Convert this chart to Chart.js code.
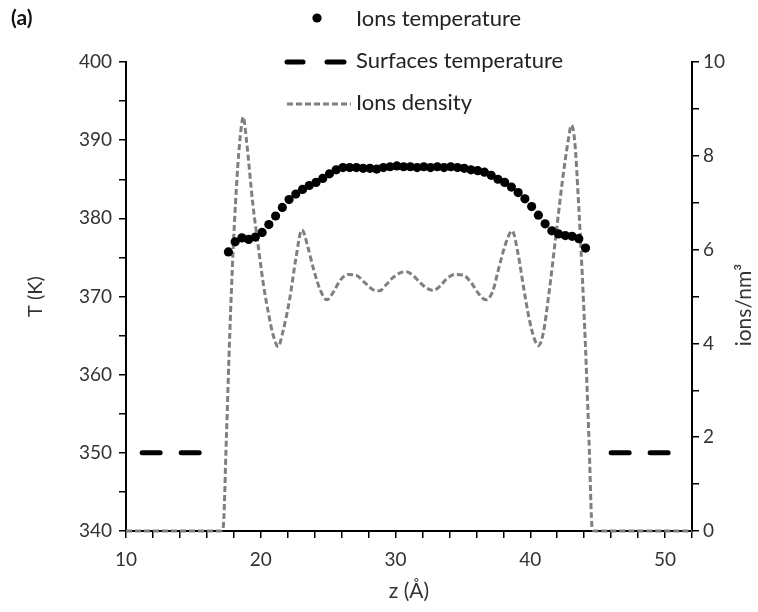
<!DOCTYPE html>
<html>
<head>
<meta charset="utf-8">
<script src="https://cdn.jsdelivr.net/npm/chart.js"></script>
<style>
  html, body { margin: 0; padding: 0; background: #fff; }
  #wrap { width: 758px; height: 612px; position: relative; }
</style>
</head>
<body>
<div id="wrap"><canvas id="chart"></canvas></div>
<script>
// ions temperature (left axis, K)
const ionsZ = [17.6, 18.1, 18.6, 19.1, 19.6, 20.1, 20.6, 21.1, 21.6, 22.1, 22.6, 23.1, 23.6, 24.1, 24.6, 25.1, 25.6, 26.1, 26.6, 27.1,
    27.6, 28.1, 28.6, 29.1, 29.6, 30.1, 30.6, 31.1, 31.6, 32.1, 32.6, 33.1, 33.6, 34.1, 34.6, 35.1, 35.6, 36.1, 36.6, 37.1,
    37.6, 38.1, 38.6, 39.1, 39.6, 40.1, 40.6, 41.1, 41.6, 42.1, 42.6, 43.1, 43.6, 44.1];
const ionsT = [375.7, 377.0, 377.5, 377.3, 377.6, 378.2, 379.2, 380.3, 381.4, 382.4, 383.1, 383.7, 384.2, 384.6, 385.1, 385.7, 386.2, 386.5, 386.5, 386.5,
    386.4, 386.4, 386.3, 386.5, 386.6, 386.7, 386.6, 386.6, 386.5, 386.6, 386.5, 386.6, 386.5, 386.6, 386.5, 386.4, 386.2, 386.1, 385.9, 385.5,
    385.0, 384.6, 384.0, 383.3, 382.5, 381.5, 380.4, 379.3, 378.4, 378.0, 377.8, 377.7, 377.4, 376.2];

// surfaces temperature (left axis, K), null breaks the line
const surfZ = [11.2, 15.9, 30, 46.0, 50.5];
const surfT = [350, 350, null, 350, 350];

// ions density (right axis, ions/nm3)
const densZ = [10, 12, 14, 16, 17.0, 17.2, 17.45, 17.7, 17.95, 18.3, 18.55, 18.7, 18.95, 19.4, 19.8, 20.2, 20.6, 20.9, 21.3, 21.6,
    22.15, 22.6, 23.05, 23.5, 23.9, 24.4, 24.9, 25.4, 25.9, 26.5, 27.1, 27.7, 28.3, 28.8, 29.3, 29.8, 30.3, 30.8, 31.3, 31.8,
    32.3, 32.8, 33.3, 33.8, 34.4, 35.0, 35.6, 36.2, 36.7, 37.2, 37.7, 38.2, 38.65, 39.1, 39.5, 39.9, 40.3, 40.6, 40.95, 41.4,
    41.9, 42.4, 42.8, 43.05, 43.3, 43.6, 43.85, 44.1, 44.35, 44.6, 44.8, 46, 48, 50, 52];
const densVal = [0, 0, 0, 0, 0, 0.05, 2.0, 4.2, 6.0, 7.8, 8.6, 8.83, 8.3, 7.0, 6.1, 5.25, 4.6, 4.2, 3.93, 4.2,
    4.95, 5.8, 6.42, 6.05, 5.6, 5.15, 4.93, 5.1, 5.35, 5.47, 5.45, 5.3, 5.15, 5.12, 5.25, 5.4, 5.5, 5.53, 5.45, 5.3,
    5.18, 5.13, 5.22, 5.38, 5.47, 5.46, 5.3, 5.05, 4.93, 5.1, 5.65, 6.15, 6.4, 5.9, 5.2, 4.55, 4.1, 3.95, 4.2, 5.1,
    6.3, 7.5, 8.3, 8.65, 8.3, 6.9, 5.5, 3.9, 2.0, 0.05, 0, 0, 0, 0, 0];

const xTicksLabelled = [10, 20, 30, 40, 50];
const leftTickLabels = [340, 350, 360, 370, 380, 390, 400];
const rightTickLabels = [0, 2, 4, 6, 8, 10];

const FONT = 'Lato, "Open Sans", sans-serif';
const TEXT = '#333';

function pairs(xs, ys) {
    return xs.map((x, i) => ({ x: x, y: ys[i] }));
}

// legend drawn by hand: stacked, top centre, over the plot
const legendPlugin = {
    id: 'stackLegend',
    afterDraw(chart) {
        const ctx = chart.ctx;
        ctx.save();
        ctx.font = '22px ' + FONT;
        ctx.textBaseline = 'middle';
        ctx.textAlign = 'left';
        const tx = 356;
        // ions temperature
        ctx.beginPath();
        ctx.arc(317, 18, 4.6, 0, Math.PI * 2);
        ctx.fillStyle = '#000';
        ctx.fill();
        ctx.fillStyle = '#222';
        ctx.fillText('Ions temperature', tx, 19);
        // surfaces temperature
        ctx.strokeStyle = '#000';
        ctx.lineWidth = 5;
        ctx.lineCap = 'round';
        ctx.setLineDash([]);
        ctx.beginPath();
        ctx.moveTo(287, 62); ctx.lineTo(303, 62);
        ctx.moveTo(327, 62); ctx.lineTo(344, 62);
        ctx.stroke();
        ctx.fillText('Surfaces temperature', tx, 61);
        // ions density
        ctx.strokeStyle = '#808080';
        ctx.lineWidth = 3;
        ctx.lineCap = 'butt';
        ctx.setLineDash([6, 3]);
        ctx.beginPath();
        ctx.moveTo(287, 104); ctx.lineTo(351, 104);
        ctx.stroke();
        ctx.setLineDash([]);
        ctx.fillText('Ions density', tx, 103);
        // panel letter
        ctx.font = 'bold 21px ' + FONT;
        ctx.fillStyle = '#111';
        ctx.fillText('(a)', 11, 18);
        // right axis title, reading bottom to top
        ctx.font = '21px ' + FONT;
        ctx.fillStyle = TEXT;
        ctx.translate(744, 305);
        ctx.rotate(-Math.PI / 2);
        ctx.textAlign = 'center';
        ctx.fillText('ions/nm³', 0, 0);
        ctx.restore();
    }
};

const ctx = document.getElementById('chart').getContext('2d');
new Chart(ctx, {
    type: 'scatter',
    data: {
        datasets: [{
            label: 'Ions temperature',
            data: pairs(ionsZ, ionsT),
            yAxisID: 'y',
            showLine: false,
            pointRadius: 4.6,
            pointBackgroundColor: '#000',
            pointBorderWidth: 0,
            order: 0
        }, {
            label: 'Surfaces temperature',
            data: pairs(surfZ, surfT),
            yAxisID: 'y',
            showLine: true,
            spanGaps: false,
            pointRadius: 0,
            borderColor: '#000',
            borderWidth: 5,
            borderCapStyle: 'round',
            borderDash: [18, 21],
            order: 1
        }, {
            label: 'Ions density',
            data: pairs(densZ, densVal),
            yAxisID: 'y1',
            showLine: true,
            pointRadius: 0,
            borderColor: '#7f7f7f',
            borderWidth: 3,
            borderDash: [6, 3],
            cubicInterpolationMode: 'monotone',
            clip: 6,
            order: 2
        }]
    },
    options: {
        responsive: true,
        maintainAspectRatio: false,
        animation: false,
        layout: { padding: { top: 62, left: 0, right: 0, bottom: 0 } },
        plugins: {
            legend: { display: false },
            tooltip: { enabled: false }
        },
        scales: {
            x: {
                type: 'linear',
                position: 'bottom',
                min: 10,
                max: 52,
                afterFit(scale) { scale.height = 81; },
                border: { color: '#000', width: 2 },
                grid: { drawOnChartArea: false, drawTicks: true, tickLength: 7, color: '#000', lineWidth: 1.5 },
                ticks: {
                    stepSize: 2,
                    includeBounds: false,
                    autoSkip: false,
                    maxRotation: 0,
                    padding: 10,
                    color: TEXT,
                    font: { family: FONT, size: 19 },
                    callback: v => xTicksLabelled.includes(v) ? String(v) : ''
                },
                title: {
                    display: true,
                    text: 'z (Å)',
                    color: TEXT,
                    font: { family: FONT, size: 21 },
                    padding: { top: 0, bottom: 8 }
                }
            },
            y: {
                type: 'linear',
                position: 'left',
                min: 340,
                max: 400,
                afterFit(scale) { scale.width = 126; },
                border: { color: '#000', width: 2 },
                grid: { drawOnChartArea: false, drawTicks: true, tickLength: 7, color: '#000', lineWidth: 1.5 },
                ticks: {
                    stepSize: 5,
                    autoSkip: false,
                    padding: 7,
                    color: TEXT,
                    font: { family: FONT, size: 19 },
                    callback: v => leftTickLabels.includes(v) ? String(v) : ''
                },
                title: {
                    display: true,
                    text: 'T (K)',
                    color: TEXT,
                    font: { family: FONT, size: 20 },
                    padding: { top: 24, bottom: 0 }
                }
            },
            y1: {
                type: 'linear',
                position: 'right',
                min: 0,
                max: 10,
                afterFit(scale) { scale.width = 66; },
                border: { color: '#000', width: 2 },
                grid: { drawOnChartArea: false, drawTicks: true, tickLength: 7, color: '#000', lineWidth: 1.5 },
                ticks: {
                    stepSize: 1,
                    autoSkip: false,
                    padding: 4,
                    color: TEXT,
                    font: { family: FONT, size: 19 },
                    callback: v => rightTickLabels.includes(v) ? String(v) : ''
                }
            }
        }
    },
    plugins: [legendPlugin]
});
</script>
</body>
</html>
